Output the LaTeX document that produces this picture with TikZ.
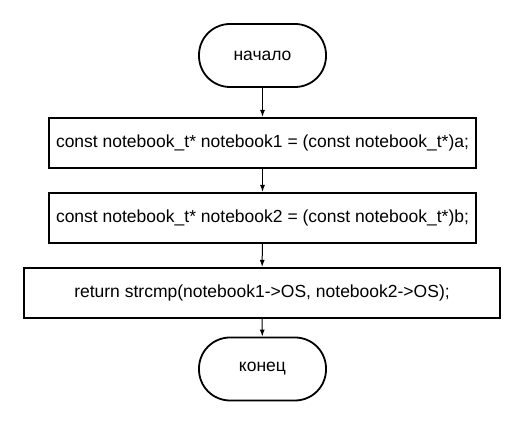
\documentclass[tikz,border=0pt]{standalone}
\usepackage{fontspec}
\setmainfont{Liberation Sans}
\usetikzlibrary{arrows.meta, positioning}

\begin{document}
\begin{tikzpicture}[
  x=1pt, y=1pt,
  term/.style={rectangle, draw, line width=1.8pt, rounded corners=31pt, minimum width=127pt, minimum height=63pt, font=\fontsize{17.5}{20}\selectfont},
  proc/.style={rectangle, draw, line width=2.2pt, minimum height=50pt, font=\fontsize{17.5}{20}\selectfont},
  arr/.style={-{Latex[length=7pt, width=5pt]}, line width=1pt},
]
  \useasboundingbox (0,0) rectangle (525,425);

  % Terminals
  \node[term] (start) at (262.5, 369.5) {начало};
  \node[term] (stop) at (262.5, 56) {конец};

  % Steps
  \node[proc, minimum width=427pt] (cast1) at (262.5, 282) {const notebook\_t* notebook1 = (const notebook\_t*)a;};
  \node[proc, minimum width=427pt] (cast2) at (262.5, 207) {const notebook\_t* notebook2 = (const notebook\_t*)b;};
  \node[proc, minimum width=476pt] (ret) at (262, 132) {return strcmp(notebook1->OS, notebook2->OS);};

  % Flow
  \draw[arr] (start) -- (cast1);
  \draw[arr] (cast1) -- (cast2);
  \draw[arr] (cast2) -- (ret);
  \draw[arr] (ret) -- (stop);
\end{tikzpicture}
\end{document}
